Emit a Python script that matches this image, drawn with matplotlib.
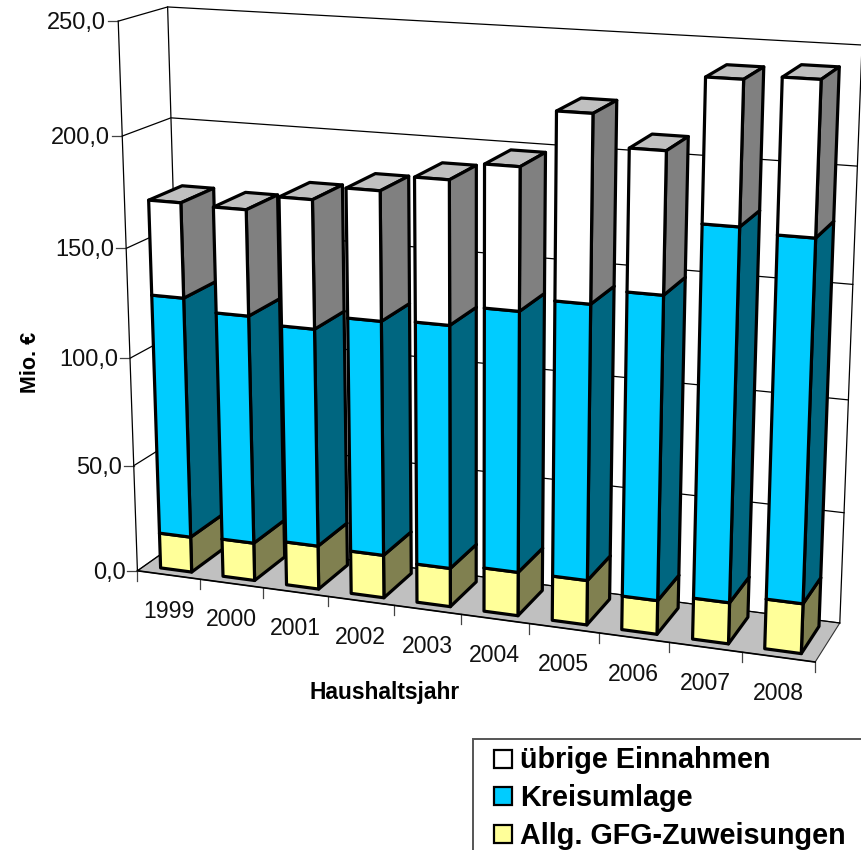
import numpy as np
import matplotlib.pyplot as plt
from matplotlib.patches import Polygon, Rectangle

plt.rcParams['font.family'] = ['Liberation Sans', 'DejaVu Sans']

years = ["1999", "2000", "2001", "2002", "2003", "2004", "2005", "2006", "2007", "2008"]
zuweisungen = [16.7, 17.7, 20.2, 19.8, 17.7, 19.9, 20.2, 15.2, 18.4, 22.1]
kreisumlage = [111.2, 104.9, 99.4, 106.2, 109.4, 116.2, 121.8, 133.4, 161.4, 155.6]
uebrige = [42.9, 47.5, 57.3, 57.1, 63.0, 61.8, 80.2, 60.3, 60.1, 64.0]
y_ticks = [0, 50, 100, 150, 200, 250]

# kalibracja rzutu (os x 0..10, wartosc 0..250, glebokosc 0..1) -> piksele
world = np.array([(0, 0, 0), (0, 250, 0), (0, 200, 0), (0, 0, 1), (0, 250, 1), (0, 200, 1),
                  (10, 0, 0), (10, 0, 1), (10, 250, 1)], float)
pix = np.array([(138, 571), (118, 21), (122, 136), (183, 538), (168, 7), (171, 118),
                (815, 662), (840, 623), (862, 45)], float)
A, b = [], []
for (x, y, z), (u, v) in zip(world, pix):
    A.append([x, y, z, 1, 0, 0, 0, 0, -u * x, -u * y, -u * z])
    A.append([0, 0, 0, 0, x, y, z, 1, -v * x, -v * y, -v * z])
    b += [u, v]
P = np.append(np.linalg.lstsq(np.array(A), np.array(b), rcond=None)[0], 1).reshape(3, 4)


def proj(x, y, z):
    q = P @ np.array([x, y, z, 1.0])
    return q[0] / q[2], q[1] / q[2]


fig = plt.figure(figsize=(8.61, 8.5), dpi=100)
ax = fig.add_axes([0, 0, 1, 1])
ax.set_xlim(0, 861)
ax.set_ylim(850, 0)
ax.axis('off')

# podloga i sciany
floor = [proj(0, 0, 0), proj(10, 0, 0), proj(10, 0, 1), proj(0, 0, 1)]
ax.add_patch(Polygon(floor, facecolor='#C0C0C0', edgecolor='#333333', lw=0.8, zorder=1))
for t in y_ticks:
    p = [proj(0, t, 0), proj(0, t, 1), proj(10, t, 1)]
    ax.plot(*zip(*p), color='black', lw=0.9, zorder=1.5)
    x0, y0 = proj(0, t, 0)
    ax.plot([x0 - 10, x0], [y0, y0], color='#444444', lw=0.9, zorder=1.5)
    ax.text(x0 - 12, y0 + 2, f"{t},0", ha='right', va='center', fontsize=17, color='#111111')
for p in [(0, 0), (0, 1), (10, 1)]:
    ax.plot(*zip(proj(p[0], 0, p[1]), proj(p[0], 250, p[1])), color='black', lw=0.9, zorder=1.5)
ax.plot(*zip(proj(0, 0, 0), proj(10, 0, 0)), color='black', lw=1.2, zorder=1.6)
for i in range(0, 11):
    x0, y0 = proj(i, 0, 0)
    ax.plot([x0, x0], [y0, y0 + 10], color='#444444', lw=0.9, zorder=1.5)

# slupki
z0, z1 = 0.15, 0.85
colors = [('#FFFF99', '#808050', '#C0C0C0'), ('#00CCFF', '#006680', '#C0C0C0'), ('#FFFFFF', '#808080', '#C0C0C0')]
for i in range(len(years)):
    xa, xb = i + 0.26, i + 0.76
    bottom = 0
    for vals, (c_front, c_side, c_top) in zip([zuweisungen, kreisumlage, uebrige], colors):
        top = bottom + vals[i]
        front = [proj(xa, bottom, z0), proj(xb, bottom, z0), proj(xb, top, z0), proj(xa, top, z0)]
        side = [proj(xb, bottom, z0), proj(xb, bottom, z1), proj(xb, top, z1), proj(xb, top, z0)]
        lid = [proj(xa, top, z0), proj(xb, top, z0), proj(xb, top, z1), proj(xa, top, z1)]
        for poly, c in [(lid, c_top), (side, c_side), (front, c_front)]:
            ax.add_patch(Polygon(poly, facecolor=c, edgecolor='black', lw=2.3, joinstyle='round', zorder=2 + i))
        bottom = top
    xl, yl = proj(i + 0.5, 0, 0)
    ax.text(xl, yl + 36.5, years[i], ha='center', va='center', fontsize=16.6, color='#111111')

ax.text(31, 362, "Mio. €", rotation=90, ha='center', va='center', fontsize=15.5, fontweight='bold')
ax.text(385, 692, "Haushaltsjahr", ha='center', va='center', fontsize=16.4, fontweight='bold')

# legenda
ax.add_patch(Rectangle((473, 739), 400, 120, facecolor='white', edgecolor='#555555', lw=1.4, zorder=30))
for name, c, yy in zip(["übrige Einnahmen", "Kreisumlage", "Allg. GFG-Zuweisungen"],
                       ['#FFFFFF', '#00CCFF', '#FFFF99'], [759, 796, 834]):
    ax.add_patch(Rectangle((494, yy - 9), 18, 18, facecolor=c, edgecolor='black', lw=1.6, zorder=31))
    ax.text(520, yy + 1.5, name, ha='left', va='center', fontsize=20.7, fontweight='bold', zorder=31)

fig.savefig("out.png", dpi=100)
